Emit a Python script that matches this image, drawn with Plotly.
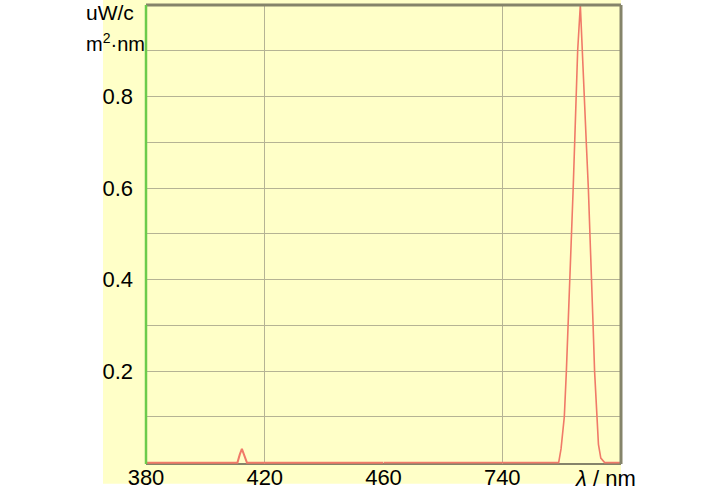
import plotly.graph_objects as go

# Short-wavelength segment (380-460 nm)
wl_short = [380, 410.8, 411.6, 412.3, 413.1, 414.0, 460]
int_short = [0, 0, 0.018, 0.03, 0.016, 0, 0]

# Long-wavelength segment (700-780 nm)
wl_long = [700, 759.0, 759.8, 760.9, 761.6, 762.2, 762.9, 763.4, 763.9, 764.4, 764.9,
           765.4, 766.3, 766.9, 767.6, 768.3, 769.0, 769.6, 770.1, 770.6, 771.1,
           771.8, 772.4, 773.2, 774.5, 780]
int_long = [0, 0, 0.03, 0.1, 0.2, 0.3, 0.4, 0.5, 0.6, 0.7, 0.8,
            0.9, 1.0, 0.9, 0.8, 0.7, 0.6, 0.5, 0.4, 0.3, 0.2,
            0.1, 0.04, 0.01, 0, 0]

x1_ticks = [380, 420, 460]
x1_labels = ["380", "420", "460"]
x2_ticks = [740, 780]
x2_labels = ["740", ""]
y_ticks = [0.1, 0.2, 0.3, 0.4, 0.5, 0.6, 0.7, 0.8, 0.9]
y_labels = ["", "0.2", "", "0.4", "", "0.6", "", "0.8", ""]

FONT = "Liberation Sans Narrow, Arial Narrow, Liberation Sans, Arial"
LINE = "#F07A68"
GRID = "#B5B394"
BORDER = "#85846A"
BG = "#FFFFC8"

fig = go.Figure()
fig.add_trace(go.Scatter(x=wl_short, y=int_short, mode="lines", xaxis="x", yaxis="y",
                         line=dict(color=LINE, width=2), showlegend=False, hoverinfo="skip"))
fig.add_trace(go.Scatter(x=wl_long, y=int_long, mode="lines", xaxis="x2", yaxis="y",
                         line=dict(color=LINE, width=1.6), showlegend=False, hoverinfo="skip"))

axis_common = dict(showgrid=True, gridcolor=GRID, gridwidth=1, zeroline=False, automargin=False,
                   showline=False, ticks="", tickfont=dict(family=FONT, size=22, color="#000"))

fig.update_layout(
    width=728, height=490,
    margin=dict(l=146, r=107, t=5, b=26),
    paper_bgcolor="white", plot_bgcolor=BG,
    font=dict(family=FONT, size=22, color="#000"),
    xaxis=dict(domain=[0, 0.5], range=[380, 460], tickvals=x1_ticks, ticktext=x1_labels,
               anchor="y", ticklabelstandoff=-2, **axis_common),
    xaxis2=dict(domain=[0.5, 1], range=[700, 780], tickvals=x2_ticks, ticktext=x2_labels,
                anchor="y", ticklabelstandoff=-2, **axis_common),
    yaxis=dict(range=[-0.003, 1.0], tickvals=y_ticks, ticktext=y_labels,
               ticklabelstandoff=12, **axis_common),
    shapes=[
        dict(type="rect", xref="paper", yref="paper", x0=-0.0905, x1=1.0, y0=-0.043, y1=1.02,
             fillcolor=BG, line=dict(width=0), layer="below"),
        dict(type="line", xref="paper", yref="paper", x0=0, x1=1, y0=1, y1=1,
             line=dict(color=BORDER, width=3)),
        dict(type="line", xref="paper", yref="paper", x0=1, x1=1, y0=0, y1=1,
             line=dict(color=BORDER, width=3)),
        dict(type="line", xref="paper", yref="paper", x0=0, x1=1, y0=0, y1=0,
             line=dict(color=BORDER, width=2), layer="below"),
        dict(type="line", xref="paper", yref="paper", x0=0, x1=0, y0=0, y1=1,
             line=dict(color="#6CCB4C", width=2.5)),
    ],
    annotations=[
        dict(text="uW/c", xref="paper", yref="paper", x=-0.021, y=0.983,
             xanchor="right", yanchor="middle", showarrow=False, font=dict(family=FONT, size=21)),
        dict(text="m<sup>2</sup>·nm", xref="paper", yref="paper", x=0.003, y=0.918,
             xanchor="right", yanchor="middle", showarrow=False, font=dict(family=FONT, size=20)),
        dict(text="<i>λ</i> / nm", xref="paper", yref="paper", x=0.968, y=-0.031,
             xanchor="center", yanchor="middle", showarrow=False, font=dict(family=FONT, size=22)),
    ],
)

fig.write_html("out.html", config={"displayModeBar": False},
               post_script="document.body.style.margin='0';")
